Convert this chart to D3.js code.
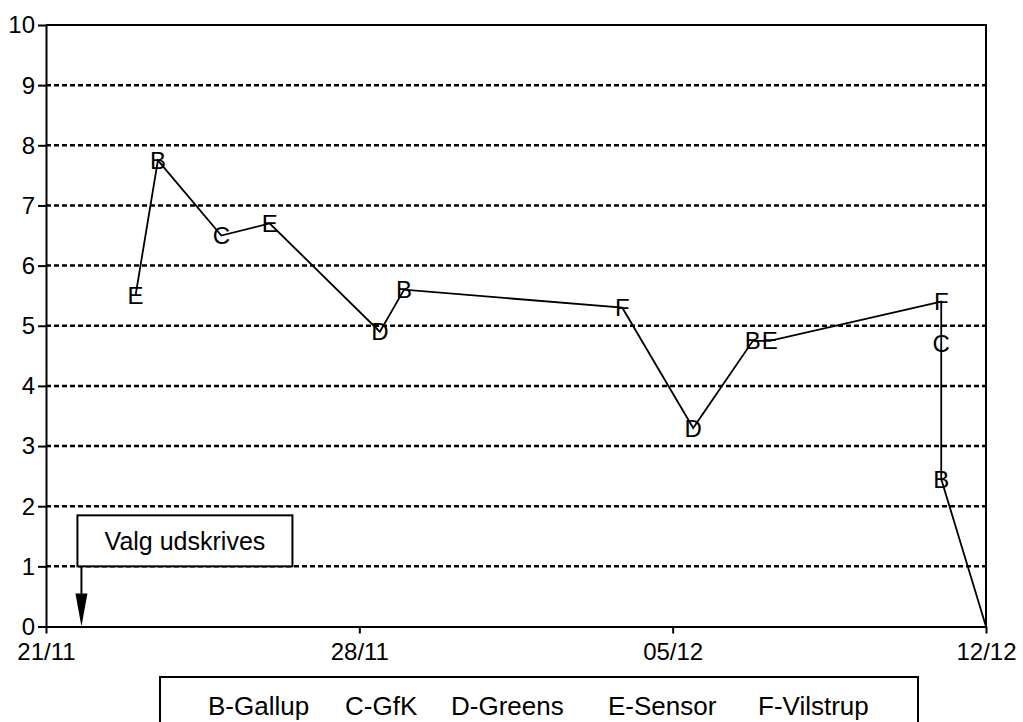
<!DOCTYPE html>
<html>
<head>
<meta charset="utf-8">
<script src="https://cdn.jsdelivr.net/npm/d3@7"></script>
<style>
  body { margin: 0; background: #fff; }
  text { font-family: 'Liberation Sans', Arial, sans-serif; fill: #000; }
</style>
</head>
<body>
<script>
const SVG_WIDTH = 1023;
const SVG_HEIGHT = 722;
const MARGIN = { top: 25, right: 36, bottom: 95, left: 46 };

// poll dates, pollster letter and value
const pollDates = [
  '1990-11-23T00:00', '1990-11-23T12:00', '1990-11-24T22:00', '1990-11-26T00:00',
  '1990-11-28T11:00', '1990-11-29T00:00', '1990-12-03T21:00', '1990-12-05T11:00',
  '1990-12-06T19:00', '1990-12-07T04:00', '1990-12-11T00:00', '1990-12-11T00:00',
  '1990-12-11T00:00', '1990-12-12T00:00'
];
const pollLetters = ['E', 'B', 'C', 'E', 'D', 'B', 'F', 'D', 'B', 'E', 'F', 'C', 'B', ''];
const pollValues = [5.5, 7.75, 6.5, 6.7, 4.9, 5.6, 5.3, 3.3, 4.75, 4.75, 5.4, 4.7, 2.45, 0];

const xTickDates = ['1990-11-21T00:00', '1990-11-28T00:00', '1990-12-05T00:00', '1990-12-12T00:00'];
const yTicks = [0, 1, 2, 3, 4, 5, 6, 7, 8, 9, 10];
const gridValues = [1, 2, 3, 4, 5, 6, 7, 8, 9];
const legendLabels = ['B-Gallup', 'C-GfK', 'D-Greens', 'E-Sensor', 'F-Vilstrup'];
const annotationText = 'Valg udskrives';
const annotationDate = '1990-11-21T19:00';

const parse = s => new Date(s);
const points = pollDates.map((d, i) => ({
  date: parse(d), letter: pollLetters[i], value: pollValues[i]
}));

const svg = d3.select('body').append('svg')
    .attr('width', SVG_WIDTH)
    .attr('height', SVG_HEIGHT);

const x = d3.scaleTime()
  .domain([parse(xTickDates[0]), parse(xTickDates[xTickDates.length - 1])])
  .range([MARGIN.left, SVG_WIDTH - MARGIN.right - 1]);
const y = d3.scaleLinear()
  .domain([0, 10])
  .range([SVG_HEIGHT - MARGIN.bottom - 0.5, MARGIN.top]);

// dashed grid
svg.append('g')
  .selectAll('line')
  .data(gridValues)
  .join('line')
    .attr('x1', x.range()[0])
    .attr('x2', x.range()[1])
    .attr('y1', d => y(d))
    .attr('y2', d => y(d))
    .attr('stroke', '#000')
    .attr('stroke-width', 2.5)
    .attr('stroke-dasharray', '5,3');

// frame top + right
svg.append('path')
  .attr('d', `M${x.range()[0]},${y(10)} H${x.range()[1]} V${y(0)}`)
  .attr('fill', 'none')
  .attr('stroke', '#000')
  .attr('stroke-width', 2);

const yAxis = svg.append('g')
  .attr('transform', `translate(${x.range()[0]},0)`)
  .call(d3.axisLeft(y).tickValues(yTicks).tickSize(8).tickPadding(3).tickSizeOuter(0));

const xAxis = svg.append('g')
  .attr('transform', `translate(0,${y(0)})`)
  .call(d3.axisBottom(x)
    .tickValues(xTickDates.map(parse))
    .tickSize(7)
    .tickPadding(9)
    .tickSizeOuter(0)
    .tickFormat(d3.timeFormat('%d/%m')));

[xAxis, yAxis].forEach(ax => {
  ax.select('.domain').attr('stroke-width', 2);
  ax.selectAll('.tick line').attr('stroke-width', 2);
  ax.selectAll('text')
    .attr('font-size', 24)
    .style('font-family', "'Liberation Sans', Arial, sans-serif");
});
yAxis.selectAll('text').attr('dy', '0.33em');

// poll line
const line = d3.line()
  .x(d => x(d.date))
  .y(d => y(d.value));

svg.append('path')
  .datum(points)
  .attr('d', line)
  .attr('fill', 'none')
  .attr('stroke', '#000')
  .attr('stroke-width', 1.8);

svg.append('g')
  .selectAll('text')
  .data(points.filter(p => p.letter))
  .join('text')
    .attr('x', d => x(d.date))
    .attr('y', d => y(d.value))
    .attr('dy', '0.36em')
    .attr('text-anchor', 'middle')
    .attr('font-size', 24)
    .text(d => d.letter);

// annotation box + arrow
const ax = x(parse(annotationDate));
const boxW = 215, boxH = 51;
svg.append('rect')
  .attr('x', ax - 4)
  .attr('y', y(1) - boxH)
  .attr('width', boxW)
  .attr('height', boxH)
  .attr('fill', '#fff')
  .attr('stroke', '#000')
  .attr('stroke-width', 2);

svg.append('text')
  .attr('x', ax - 4 + boxW / 2)
  .attr('y', y(1) - boxH / 2)
  .attr('dy', '0.36em')
  .attr('text-anchor', 'middle')
  .attr('font-size', 25)
  .text(annotationText);

svg.append('line')
  .attr('x1', ax).attr('x2', ax)
  .attr('y1', y(1)).attr('y2', y(0) - 30)
  .attr('stroke', '#000')
  .attr('stroke-width', 2);

svg.append('path')
  .attr('d', `M${ax - 6},${y(0) - 33} L${ax + 6},${y(0) - 33} L${ax},${y(0)} Z`)
  .attr('fill', '#000');

// legend
const legendX = [208, 345, 451, 608, 758];
svg.append('rect')
  .attr('x', 160)
  .attr('y', 677)
  .attr('width', 758)
  .attr('height', 80)
  .attr('fill', '#fff')
  .attr('stroke', '#000')
  .attr('stroke-width', 2);

svg.append('g')
  .selectAll('text')
  .data(legendLabels)
  .join('text')
    .attr('x', (d, i) => legendX[i])
    .attr('y', 715)
    .attr('font-size', 26)
    .text(d => d);
</script>
</body>
</html>
